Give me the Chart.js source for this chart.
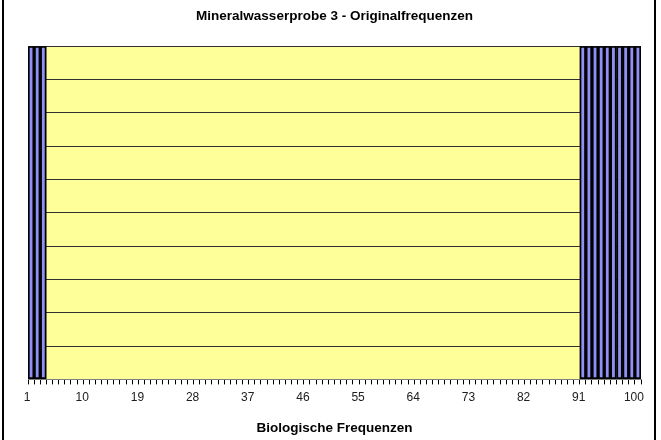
<!DOCTYPE html>
<html>
<head>
<meta charset="utf-8">
<script src="https://cdn.jsdelivr.net/npm/chart.js@4/dist/chart.umd.min.js"></script>
<style>
  body { margin: 0; background: #fff; }
  #wrap { position: relative; width: 661px; height: 440px; }
  #frame { position: absolute; left: 2px; top: 0; width: 650px; height: 440px;
           border-left: 2px solid #000; border-right: 2px solid #000; pointer-events: none; }
</style>
</head>
<body>
<div id="wrap">
  <canvas id="myChart" width="661" height="440"></canvas>
  <div id="frame"></div>
</div>
<script>
// Frequenzen 1..100
const frequenzen = [];
for (let i = 1; i <= 100; i++) frequenzen.push(String(i));

// Werte pro Frequenz (nur Anfang und Ende belegt)
const werte = [
  10, 10, 10, 0, 0, 0, 0, 0, 0, 0,
  0, 0, 0, 0, 0, 0, 0, 0, 0, 0,
  0, 0, 0, 0, 0, 0, 0, 0, 0, 0,
  0, 0, 0, 0, 0, 0, 0, 0, 0, 0,
  0, 0, 0, 0, 0, 0, 0, 0, 0, 0,
  0, 0, 0, 0, 0, 0, 0, 0, 0, 0,
  0, 0, 0, 0, 0, 0, 0, 0, 0, 0,
  0, 0, 0, 0, 0, 0, 0, 0, 0, 0,
  0, 0, 0, 0, 0, 0, 0, 0, 0, 0,
  10, 10, 10, 10, 10, 10, 10, 10, 10, 10
];

// beschriftete Frequenzen an der x-Achse
const achsenLabels = ['1', '10', '19', '28', '37', '46', '55', '64', '73', '82', '91', '100'];

// gelber Hintergrund der Zeichenfläche
const plotHintergrund = {
  id: 'plotHintergrund',
  beforeDraw(chart) {
    const { ctx, chartArea: a } = chart;
    ctx.save();
    ctx.fillStyle = '#FFFF99';
    ctx.fillRect(a.left, a.top, a.right - a.left, a.bottom - a.top);
    ctx.restore();
  }
};

const ctx = document.getElementById('myChart').getContext('2d');
const myChart = new Chart(ctx, {
  type: 'bar',
  data: {
    labels: frequenzen,
    datasets: [{
      label: 'Mineralwasserprobe 3',
      data: werte,
      backgroundColor: '#9090F8',
      borderColor: '#000000',
      borderWidth: 2,
      borderSkipped: false,
      barPercentage: 1,
      categoryPercentage: 1
    }]
  },
  options: {
    responsive: false,
    animation: false,
    layout: { padding: { left: 28, right: 20, top: 0, bottom: 1 } },
    plugins: {
      legend: { display: false },
      tooltip: { enabled: false },
      title: {
        display: true,
        text: 'Mineralwasserprobe 3 - Originalfrequenzen',
        color: '#000',
        font: { family: 'Liberation Sans', size: 13.5, weight: 'bold' },
        padding: { top: 8, bottom: 22 }
      }
    },
    scales: {
      x: {
        ticks: {
          autoSkip: false,
          maxRotation: 0,
          color: '#202020',
          padding: 6,
          labelOffset: -4,
          font: { family: 'Liberation Sans', size: 12 },
          callback: function (v, i) {
            const l = frequenzen[i];
            return achsenLabels.includes(l) ? l : '';
          }
        },
        grid: { drawOnChartArea: false, color: '#000', tickLength: 5 },
        border: { color: '#808080', width: 1 },
        title: {
          display: true,
          text: 'Biologische Frequenzen',
          color: '#000',
          font: { family: 'Liberation Sans', size: 13.5, weight: 'bold' },
          padding: { top: 9, bottom: 3 }
        }
      },
      y: {
        min: 0,
        max: 10,
        ticks: { display: false, stepSize: 1 },
        grid: { color: '#303030', lineWidth: 1, drawTicks: false },
        border: { display: true, color: '#808080' }
      }
    }
  },
  plugins: [plotHintergrund]
});
</script>
</body>
</html>
